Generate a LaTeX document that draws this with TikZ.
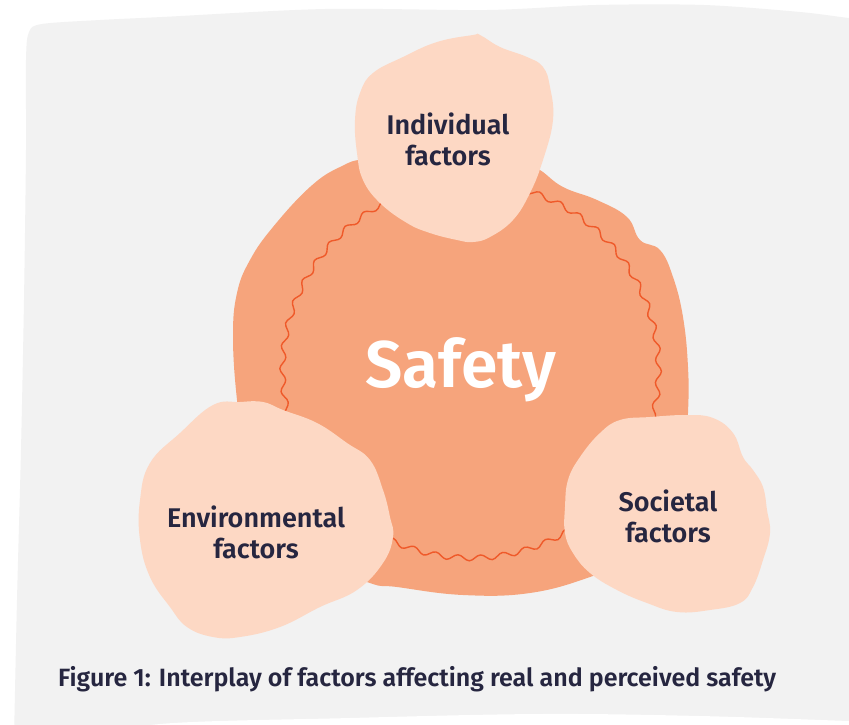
\documentclass[tikz,border=0pt]{standalone}
\usepackage{fontspec}
\setmainfont{Fira Sans}[BoldFont={* SemiBold}]
\usetikzlibrary{decorations.pathmorphing}
\definecolor{sheet}{HTML}{F2F2F2}
\definecolor{core}{HTML}{F6A47C}
\definecolor{petal}{HTML}{FDD8C4}
\definecolor{ripple}{HTML}{EF5A2A}
\definecolor{ink}{HTML}{262640}
\begin{document}
\begin{tikzpicture}[x=1pt,y=-1pt,
  petalblob/.style={fill=petal, draw=none},
  factorlabel/.style={text=ink, font=\bfseries\fontsize{27}{31}\selectfont, align=center, anchor=base, inner sep=0pt},
]
\useasboundingbox (0,0) rectangle (849,724);
\fill[white] (0,0) rectangle (849,724);

% paper sheet
\fill[sheet] plot[smooth, tension=0.5] coordinates {(14,740) (17,600) (21,450) (24,300) (26,150) (26,60) (29,32) (42,24) (100,20) (162,17) (325,9) (487,10) (596,5) (704,5) (800,12) (849,18) (880,20)} -- (880,760) -- (14,760) -- cycle;
\fill[white] plot[smooth, tension=0.6] coordinates {(100,740) (160,724) (350,718) (540,714) (700,716) (849,721) (880,722)} -- (880,760) -- (100,760) -- cycle;

% central blob
\fill[core] plot[smooth cycle, tension=0.7] coordinates {(233,337) (237,293) (250,260) (273,227) (310,187) (340,167) (370,158) (450,150) (520,160) (540,170) (563,187) (597,200) (627,217) (640,240) (660,250) (673,277) (683,317) (688,367) (688,413) (684,470) (660,530) (625,560) (590,577) (530,593) (463,595) (397,587) (370,583) (320,560) (270,500) (245,450) (237,400)};

% wavy ring
\draw[ripple, line width=1.4pt, decorate, decoration={snake, amplitude=2.8pt, segment length=22.716pt}] (465,182) arc[start angle=-90, end angle=270, radius=188];

% factor blobs
\fill[petalblob] plot[smooth cycle, tension=0.7] coordinates {(473,35) (437,42) (403,57) (373,73) (360,93) (355,120) (357,153) (363,180) (380,203) (407,223) (430,233) (457,240) (473,242) (490,237) (513,220) (530,193) (543,160) (553,120) (550,87) (543,67) (527,57) (500,47) (480,35)};
\fill[petalblob] plot[smooth cycle, tension=0.7] coordinates {(240,402) (213,405) (180,433) (150,463) (140,500) (140,540) (150,577) (170,607) (187,627) (213,637) (240,637) (280,627) (320,607) (357,590) (383,563) (393,537) (390,517) (383,490) (370,460) (347,443) (317,423) (283,410) (263,402)};
\fill[petalblob] plot[smooth cycle, tension=0.7] coordinates {(687,415) (650,417) (620,420) (600,433) (580,457) (568,480) (565,507) (565,533) (573,553) (590,573) (617,590) (647,603) (677,612) (710,610) (740,603) (753,587) (763,560) (770,533) (767,510) (763,487) (753,470) (743,457) (733,433) (713,418)};

% labels
\node[text=white, font=\bfseries\fontsize{66}{66}\selectfont, anchor=base, inner sep=0pt] (safety) at (461,387) {Safety};
\node[factorlabel] (indiv) at (448,165) {Individual\\factors};
\node[factorlabel] (env) at (256,558) {Environmental\\factors};
\node[factorlabel] (soc) at (668,542) {Societal\\factors};
\node[text=ink, font=\bfseries\fontsize{25}{25}\selectfont, anchor=base west, inner sep=0pt] (caption) at (58,686) {Figure 1: Interplay of factors affecting real and perceived safety};
\end{tikzpicture}
\end{document}
